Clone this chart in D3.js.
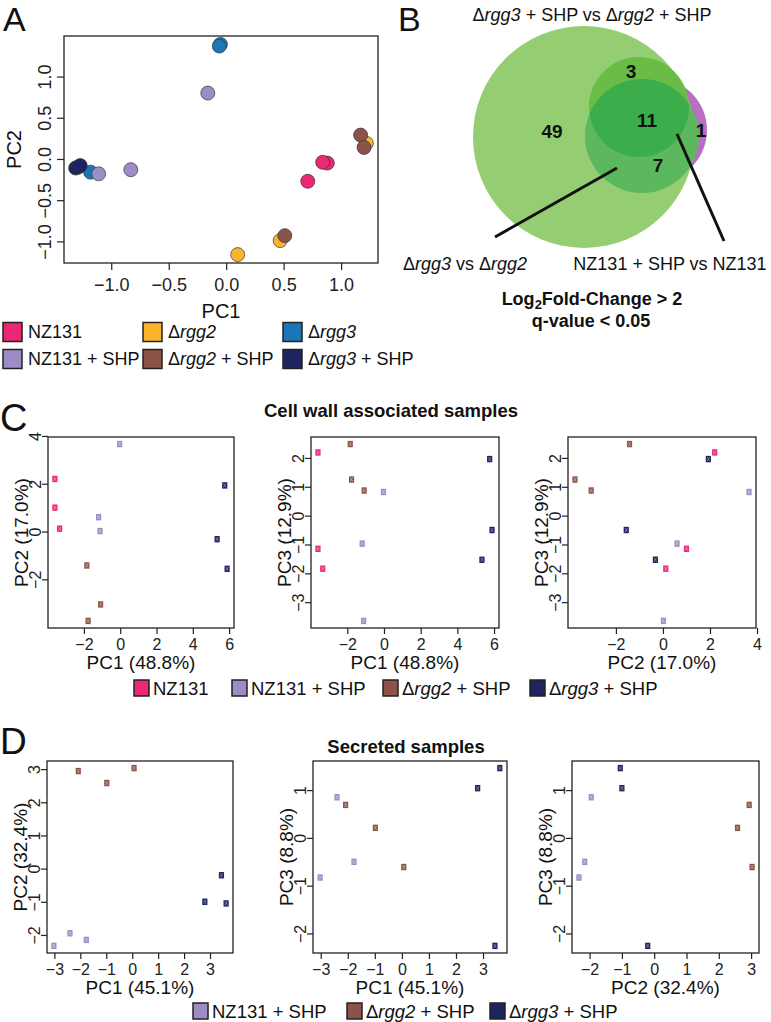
<!DOCTYPE html>
<html>
<head>
<meta charset="utf-8">
<script src="https://cdn.jsdelivr.net/npm/d3@7"></script>
<style>
  body { margin: 0; background: #fff; }
  svg { font-family: "Liberation Sans", Arial, sans-serif; }
</style>
</head>
<body>
<svg id="fig" width="771" height="1022"></svg>
<script>
// ---- data ----
const groups = ['NZ131', 'Δrgg2', 'Δrgg3', 'NZ131 + SHP', 'Δrgg2 + SHP', 'Δrgg3 + SHP'];

// panel A: [group, PC1, PC2]
const pcaA = [
  ['Δrgg2', 1.22, 0.19], ['Δrgg2', 0.47, -0.99], ['Δrgg2', 0.10, -1.16],
  ['Δrgg3', -0.05, 1.39], ['Δrgg3', -0.06, 1.37], ['Δrgg3', -1.18, -0.16],
  ['NZ131', 0.88, -0.05], ['NZ131', 0.84, -0.04], ['NZ131', 0.71, -0.27],
  ['NZ131 + SHP', -0.16, 0.80], ['NZ131 + SHP', -1.11, -0.18], ['NZ131 + SHP', -0.83, -0.13],
  ['Δrgg2 + SHP', 1.17, 0.29], ['Δrgg2 + SHP', 1.20, 0.14], ['Δrgg2 + SHP', 0.51, -0.93],
  ['Δrgg3 + SHP', -1.31, -0.11], ['Δrgg3 + SHP', -1.29, -0.10], ['Δrgg3 + SHP', -1.27, -0.08]
];

// panel B: Venn counts
const vennSets = ['Δrgg3 + SHP vs Δrgg2 + SHP', 'Δrgg3 vs Δrgg2', 'NZ131 + SHP vs NZ131'];
const vennCounts = [49, 3, 11, 7, 1];

// panel C: cell wall associated samples
const cellWallGroup = ['NZ131', 'NZ131', 'NZ131', 'NZ131 + SHP', 'NZ131 + SHP', 'NZ131 + SHP',
  'Δrgg2 + SHP', 'Δrgg2 + SHP', 'Δrgg2 + SHP', 'Δrgg3 + SHP', 'Δrgg3 + SHP', 'Δrgg3 + SHP'];
const cellWallPC1 = [-3.60, -3.60, -3.34, -0.03, -1.19, -1.11, -1.84, -1.08, -1.77, 5.76, 5.34, 5.89];
const cellWallPC2 = [2.20, 1.00, 0.12, 3.66, 0.60, 0.02, -1.42, -3.05, -3.74, 1.93, -0.32, -1.56];
const cellWallPC3 = [2.19, -1.15, -1.84, 0.82, -0.97, -3.65, 2.48, 0.87, 1.25, 1.96, -1.53, -0.50];
const cellWallVar = ['48.8%', '17.0%', '12.9%'];

// panel D: secreted samples
const secretedGroup = ['NZ131 + SHP', 'NZ131 + SHP', 'NZ131 + SHP', 'Δrgg2 + SHP', 'Δrgg2 + SHP', 'Δrgg2 + SHP',
  'Δrgg3 + SHP', 'Δrgg3 + SHP', 'Δrgg3 + SHP'];
const secretedPC1 = [-3.02, -2.40, -1.77, -2.08, -0.98, 0.07, 2.80, 3.44, 3.62];
const secretedPC2 = [-2.33, -1.95, -2.15, 2.94, 2.58, 3.03, -1.00, -0.20, -1.05];
const secretedPC3 = [-0.83, 0.85, -0.50, 0.69, 0.21, -0.61, 1.04, -2.26, 1.46];
const secretedVar = ['45.1%', '32.4%', '8.8%'];

// ---- styles ----
const colors = {
  'NZ131': '#EC2774', 'Δrgg2': '#FBB42C', 'Δrgg3': '#1C76B6',
  'NZ131 + SHP': '#9D8CC6', 'Δrgg2 + SHP': '#8C5449', 'Δrgg3 + SHP': '#1E2460'
};
const ink = '#222';
const svg = d3.select('#fig');

// write a label, italicising the gene names
function rich(sel, str) {
  str.split(/(rgg\d)/).filter(s => s.length).forEach(part => {
    sel.append('tspan').attr('font-style', /^rgg\d$/.test(part) ? 'italic' : null).text(part);
  });
  return sel;
}

// R style 4% padded range
function rDomain(vals) {
  const [lo, hi] = d3.extent(vals);
  const p = (hi - lo) * 0.04;
  return [lo - p, hi + p];
}

function scatter(o) {
  const b = o.box;
  const x = d3.scaleLinear().domain(rDomain(o.xs)).range([b.x0, b.x1]);
  const y = d3.scaleLinear().domain(rDomain(o.ys)).range([b.y1, b.y0]);
  const g = svg.append('g');

  const gx = g.append('g').attr('transform', `translate(0,${b.y1})`)
    .call(d3.axisBottom(x).tickValues(o.xTicks).tickSize(o.tick).tickPadding(o.xPad).tickFormat(o.fmt));
  gx.select('.domain').remove();
  gx.selectAll('line').attr('stroke', ink).attr('stroke-width', 1.2);
  gx.selectAll('text').attr('font-size', o.tickFont).attr('fill', ink);

  const gy = g.append('g').attr('transform', `translate(${b.x0},0)`)
    .call(d3.axisLeft(y).tickValues(o.yTicks).tickSize(o.tick).tickFormat(o.fmt));
  gy.select('.domain').remove();
  gy.selectAll('line').attr('stroke', ink).attr('stroke-width', 1.2);
  gy.selectAll('text')
    .attr('transform', 'rotate(-90)')
    .attr('x', 0).attr('y', -o.yPad).attr('dy', 0)
    .attr('text-anchor', 'middle')
    .attr('font-size', o.tickFont).attr('fill', ink);

  g.append('rect')
    .attr('x', b.x0).attr('y', b.y0)
    .attr('width', b.x1 - b.x0).attr('height', b.y1 - b.y0)
    .attr('fill', 'none').attr('stroke', ink).attr('stroke-width', 1.3);

  g.append('text')
    .attr('x', (b.x0 + b.x1) / 2).attr('y', b.y1 + o.xTitleOff)
    .attr('text-anchor', 'middle').attr('font-size', o.titleFont).attr('fill', '#111')
    .text(o.xLabel);
  g.append('text')
    .attr('transform', `translate(${b.x0 - o.yTitleOff},${(b.y0 + b.y1) / 2}) rotate(-90)`)
    .attr('text-anchor', 'middle').attr('font-size', o.titleFont).attr('fill', '#111')
    .text(o.yLabel);

  const pts = o.xs.map((v, i) => ({ x: v, y: o.ys[i], g: o.gs[i] }));
  if (o.circles) {
    g.selectAll('circle.pt').data(pts).join('circle')
      .attr('cx', d => x(d.x)).attr('cy', d => y(d.y)).attr('r', 7)
      .attr('fill', d => colors[d.g]).attr('stroke', '#333').attr('stroke-width', 0.7);
  } else {
    const m = g.selectAll('g.pt').data(pts).join('g')
      .attr('transform', d => `translate(${x(d.x)},${y(d.y)})`);
    m.append('rect').attr('x', -2.6).attr('y', -3.2).attr('width', 5.2).attr('height', 6.4)
      .attr('fill', d => colors[d.g]);
    m.append('path').attr('d', 'M-1.4,-2L1.4,2M1.4,-2L-1.4,2')
      .attr('stroke', '#fff').attr('stroke-opacity', 0.45).attr('stroke-width', 0.8);
  }
}

function legend(items, boxX, cy, bw, bh, font, textGap) {
  items.forEach((name, i) => {
    svg.append('rect')
      .attr('x', boxX[i]).attr('y', cy - bh / 2).attr('width', bw).attr('height', bh)
      .attr('fill', colors[name]).attr('stroke', ink).attr('stroke-width', 1.5);
    rich(svg.append('text')
      .attr('x', boxX[i] + bw + textGap).attr('y', cy + font * 0.36)
      .attr('font-size', font).attr('fill', '#111'), name);
  });
}

function letter(t, x, y, size) {
  svg.append('text').attr('x', x).attr('y', y).attr('font-size', size).attr('fill', '#111').text(t);
}

// ---- panel A ----
letter('A', 3, 31, 34);
scatter({
  box: { x0: 64, x1: 378, y0: 36, y1: 263 },
  xs: pcaA.map(d => d[1]), ys: pcaA.map(d => d[2]), gs: pcaA.map(d => d[0]),
  xTicks: [-1, -0.5, 0, 0.5, 1], yTicks: [-1, -0.5, 0, 0.5, 1], fmt: d3.format('.1f'),
  tick: 7, xPad: 8, yPad: 13.5, tickFont: 18, titleFont: 20,
  xTitleOff: 55, yTitleOff: 43, xLabel: 'PC1', yLabel: 'PC2', circles: true
});
[0, 1].forEach(row => {
  legend(groups.slice(row * 3, row * 3 + 3), [3, 143, 283], 332 + row * 27, 19, 19, 18, 6);
});

// ---- panel B ----
letter('B', 398, 31, 34);
rich(svg.append('text').attr('x', 592).attr('y', 21).attr('text-anchor', 'middle')
  .attr('font-size', 18).attr('fill', '#111'), vennSets[0]);

const venn = svg.append('g');
const upper = { cx: 639, cy: 107, r: 50 };
const lower = { cx: 642, cy: 136, r: 57 };
venn.append('clipPath').attr('id', 'clipUpper')
  .append('circle').attr('cx', upper.cx).attr('cy', upper.cy).attr('r', upper.r);
venn.append('circle').attr('cx', 655).attr('cy', 130).attr('r', 52).attr('fill', '#B86EC1');
venn.append('circle').attr('cx', 584).attr('cy', 137).attr('r', 111).attr('fill', '#95CD72');
venn.append('circle').attr('cx', lower.cx).attr('cy', lower.cy).attr('r', lower.r).attr('fill', '#5CB85D');
venn.append('circle').attr('cx', upper.cx).attr('cy', upper.cy).attr('r', upper.r).attr('fill', '#69BD47');
venn.append('circle').attr('cx', lower.cx).attr('cy', lower.cy).attr('r', lower.r)
  .attr('fill', '#3BAD4B').attr('clip-path', 'url(#clipUpper)');

const countPos = [[552, 131], [631, 71], [647, 120], [658, 165], [701, 130]];
venn.selectAll('text.count').data(vennCounts).join('text')
  .attr('x', (d, i) => countPos[i][0]).attr('y', (d, i) => countPos[i][1] + 7)
  .attr('text-anchor', 'middle').attr('font-size', 19).attr('font-weight', 'bold').attr('fill', '#111')
  .text(d => d);

venn.append('line').attr('x1', 617).attr('y1', 168).attr('x2', 495).attr('y2', 237)
  .attr('stroke', '#111').attr('stroke-width', 3);
venn.append('line').attr('x1', 677).attr('y1', 134).attr('x2', 724).attr('y2', 241)
  .attr('stroke', '#111').attr('stroke-width', 3);

rich(svg.append('text').attr('x', 465).attr('y', 270).attr('text-anchor', 'middle')
  .attr('font-size', 18).attr('fill', '#111'), vennSets[1]);
rich(svg.append('text').attr('x', 670).attr('y', 270).attr('text-anchor', 'middle')
  .attr('font-size', 18).attr('fill', '#111'), vennSets[2]);

const lfc = svg.append('text').attr('x', 592).attr('y', 305).attr('text-anchor', 'middle')
  .attr('font-size', 18).attr('font-weight', 'bold').attr('fill', '#111');
lfc.append('tspan').text('Log');
lfc.append('tspan').attr('font-size', 13).attr('dy', 4).text('2');
lfc.append('tspan').attr('dy', -4).text('Fold-Change > 2');
svg.append('text').attr('x', 591).attr('y', 327).attr('text-anchor', 'middle')
  .attr('font-size', 18).attr('font-weight', 'bold').attr('fill', '#111').text('q-value < 0.05');

// ---- panel C ----
letter('C', 0, 431, 38);
svg.append('text').attr('x', 391).attr('y', 417).attr('text-anchor', 'middle')
  .attr('font-size', 18.5).attr('font-weight', 'bold').attr('fill', '#111')
  .text('Cell wall associated samples');

const small = { tick: 6, xPad: 5, yPad: 7.5, tickFont: 16, titleFont: 19, xTitleOff: 41, yTitleOff: 20, fmt: d3.format('d') };
const pcLabel = (n, v) => `PC${n} (${v})`;

scatter({ ...small, box: { x0: 48, x1: 234, y0: 437, y1: 628 },
  xs: cellWallPC1, ys: cellWallPC2, gs: cellWallGroup,
  xTicks: [-2, 0, 2, 4, 6], yTicks: [-2, 0, 2, 4],
  xLabel: pcLabel(1, cellWallVar[0]), yLabel: pcLabel(2, cellWallVar[1]) });
scatter({ ...small, box: { x0: 311, x1: 499, y0: 437, y1: 628 },
  xs: cellWallPC1, ys: cellWallPC3, gs: cellWallGroup,
  xTicks: [-2, 0, 2, 4, 6], yTicks: [-3, -2, -1, 0, 1, 2],
  xLabel: pcLabel(1, cellWallVar[0]), yLabel: pcLabel(3, cellWallVar[2]) });
scatter({ ...small, box: { x0: 568, x1: 756, y0: 437, y1: 628 },
  xs: cellWallPC2, ys: cellWallPC3, gs: cellWallGroup,
  xTicks: [-2, 0, 2, 4], yTicks: [-3, -2, -1, 0, 1, 2],
  xLabel: pcLabel(2, cellWallVar[1]), yLabel: pcLabel(3, cellWallVar[2]) });
legend(['NZ131', 'NZ131 + SHP', 'Δrgg2 + SHP', 'Δrgg3 + SHP'], [134, 232, 383, 530], 688, 15, 16, 18.5, 4);

// ---- panel D ----
letter('D', 0, 754, 37);
svg.append('text').attr('x', 406).attr('y', 753).attr('text-anchor', 'middle')
  .attr('font-size', 18.5).attr('font-weight', 'bold').attr('fill', '#111')
  .text('Secreted samples');

scatter({ ...small, box: { x0: 47, x1: 233, y0: 761, y1: 953 },
  xs: secretedPC1, ys: secretedPC2, gs: secretedGroup,
  xTicks: [-3, -2, -1, 0, 1, 2, 3], yTicks: [-2, -1, 0, 1, 2, 3],
  xLabel: pcLabel(1, secretedVar[0]), yLabel: pcLabel(2, secretedVar[1]) });
scatter({ ...small, box: { x0: 313, x1: 507, y0: 761, y1: 953 },
  xs: secretedPC1, ys: secretedPC3, gs: secretedGroup,
  xTicks: [-3, -2, -1, 0, 1, 2, 3], yTicks: [-2, -1, 0, 1],
  xLabel: pcLabel(1, secretedVar[0]), yLabel: pcLabel(3, secretedVar[2]) });
scatter({ ...small, box: { x0: 572, x1: 759, y0: 761, y1: 953 },
  xs: secretedPC2, ys: secretedPC3, gs: secretedGroup,
  xTicks: [-2, -1, 0, 1, 2, 3], yTicks: [-2, -1, 0, 1],
  xLabel: pcLabel(2, secretedVar[1]), yLabel: pcLabel(3, secretedVar[2]) });
legend(['NZ131 + SHP', 'Δrgg2 + SHP', 'Δrgg3 + SHP'], [193, 347, 490], 1011, 15, 16, 18.5, 4);
</script>
</body>
</html>
